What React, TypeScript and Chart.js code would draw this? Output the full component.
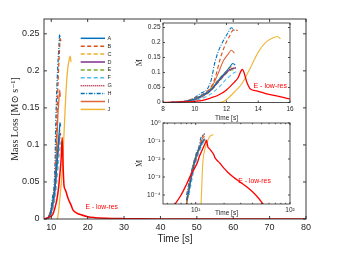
import React, { useEffect, useRef } from 'react';
import { Chart, registerables } from 'chart.js';
Chart.register(...registerables);

// ---------- data ----------
const seriesLabels = ['A', 'B', 'C', 'D', 'E', 'F', 'G', 'H', 'I', 'J'];

const tA = [8, 8.5, 9, 9.5, 10, 10.5, 11, 11.5, 12, 12.2, 12.4, 12.55];
const vA = [0.00005, 0.0002, 0.001, 0.004, 0.012, 0.025, 0.042, 0.075, 0.105, 0.118, 0.13, 0.125];
const tB = [8, 8.5, 9, 9.5, 10, 10.5, 11, 11.3, 11.6, 11.9, 12.2, 12.45, 12.7];
const vB = [0.00005, 0.0003, 0.0015, 0.006, 0.015, 0.028, 0.05, 0.085, 0.145, 0.19, 0.222, 0.243, 0.24];
const tC = [8, 8.5, 9, 9.5, 10, 10.5, 11, 11.5, 12, 12.3, 12.5];
const vC = [0.00003, 0.0002, 0.001, 0.004, 0.011, 0.024, 0.045, 0.078, 0.105, 0.118, 0.12];
const tD = [8, 8.5, 9, 9.5, 10, 10.5, 11, 11.5, 12, 12.3, 12.6];
const vD = [0.00003, 0.0002, 0.001, 0.004, 0.01, 0.022, 0.04, 0.07, 0.1, 0.112, 0.115];
const tE = [8, 8.5, 9, 9.5, 10, 10.5, 11, 11.5, 12, 12.3, 12.5];
const vE = [0.00003, 0.0002, 0.0009, 0.0035, 0.009, 0.02, 0.038, 0.068, 0.097, 0.108, 0.11];
const tF = [8.5, 9, 9.5, 10, 10.5, 11, 11.5, 12, 12.5, 12.8];
const vF = [0.0001, 0.0005, 0.002, 0.006, 0.014, 0.028, 0.05, 0.078, 0.1, 0.105];
const tG = [8, 8.5, 9, 9.5, 10, 10.5, 11, 11.5, 12, 12.3, 12.6];
const vG = [0.00003, 0.0002, 0.001, 0.004, 0.01, 0.023, 0.041, 0.072, 0.102, 0.113, 0.116];
const tH = [8, 8.5, 9, 9.5, 9.8, 10.3, 10.85, 11.05, 11.25, 11.5, 11.8, 12.1, 12.3, 12.5];
const vH = [0.0001, 0.0005, 0.002, 0.006, 0.01, 0.028, 0.05, 0.078, 0.13, 0.172, 0.206, 0.233, 0.249, 0.24];
const tI = [8, 8.5, 9, 9.5, 10, 10.6, 11.05, 11.5, 11.8, 12.1, 12.3, 12.5];
const vI = [0.00005, 0.0003, 0.0015, 0.005, 0.012, 0.028, 0.05, 0.1, 0.139, 0.161, 0.174, 0.165];
const tJ = [11.4, 11.6, 11.8, 12, 12.5, 13, 13.5, 14, 14.5, 15, 15.2, 15.4];
const vJ = [0.00003, 0.0003, 0.003, 0.01, 0.035, 0.065, 0.115, 0.168, 0.202, 0.217, 0.22, 0.212];

const lowResLabel = 'E - low-res';
const tLow = [5, 6, 7, 8, 9, 10, 10.5, 11, 11.5, 12, 12.5, 12.7, 13, 13.3, 13.5, 13.9, 14.6, 15.5, 16, 17, 18, 20, 22, 25, 30, 35, 40, 45, 50, 55, 60, 70, 80];
const vLow = [0.00001, 0.00003, 0.0001, 0.0004, 0.0015, 0.004, 0.007, 0.015, 0.025, 0.042, 0.068, 0.08, 0.11, 0.065, 0.045, 0.039, 0.028, 0.018, 0.012, 0.008, 0.006, 0.003, 0.0018, 0.001, 0.0005, 0.00028, 0.00015, 0.00008, 0.00004, 0.00002, 0.00001, 0.000003, 0.000001];

const seriesT = [tA, tB, tC, tD, tE, tF, tG, tH, tI, tJ];
const seriesV = [vA, vB, vC, vD, vE, vF, vG, vH, vI, vJ];

const mainXTicks = [10, 20, 30, 40, 50, 60, 70, 80];
const mainYTicks = [0, 0.05, 0.1, 0.15, 0.2, 0.25];
const in1XTicks = [8, 10, 12, 14, 16];
const in1YTicks = [0, 0.05, 0.1, 0.15, 0.2, 0.25];
const in2XMajor = [10, 100];
const in2XMinor = [5, 6, 7, 8, 9, 20, 30, 40, 50, 60, 70, 80, 90];
const in2YTicks = [0.0001, 0.001, 0.01, 0.1, 1];

// ---------- styles ----------
const styles = [
  { color: '#0072BD', dash: [] },
  { color: '#D95319', dash: [4, 2.5] },
  { color: '#EDB120', dash: [4, 2.5] },
  { color: '#7E2F8E', dash: [] },
  { color: '#77AC30', dash: [4, 2.5] },
  { color: '#4DBEEE', dash: [4, 2.5] },
  { color: '#A2142F', dash: [1, 1] },
  { color: '#0072BD', dash: [4, 1.5, 1, 1.5] },
  { color: '#E0663A', dash: [] },
  { color: '#F0B535', dash: [] },
];
const lowColor = '#FF0000';
const axisColor = '#262626';
const sans = '"Liberation Sans", "DejaVu Sans", Arial, sans-serif';
const serif = '"Liberation Serif", "DejaVu Serif", serif';

function pts(t: number[], v: number[]) {
  return t.map((x, i) => ({ x, y: v[i] }));
}

function buildDatasets(width: number) {
  const ds: any[] = [
    {
      label: lowResLabel,
      data: pts(tLow, vLow),
      borderColor: lowColor,
      borderWidth: width + 0.2,
      pointRadius: 0,
      cubicInterpolationMode: 'monotone',
      fill: false,
    },
  ];
  seriesLabels.forEach((lab, i) => {
    ds.push({
      label: lab,
      data: pts(seriesT[i], seriesV[i]),
      borderColor: styles[i].color,
      borderDash: styles[i].dash,
      borderWidth: width,
      pointRadius: 0,
      cubicInterpolationMode: 'monotone',
      fill: false,
    });
  });
  return ds;
}

function framePlugin(len: number, lw: number, fill: boolean, minorX?: number[]) {
  return {
    id: 'frameTicks',
    beforeDraw(chart: any) {
      if (!fill) return;
      const a = chart.chartArea;
      const ctx = chart.ctx;
      ctx.save();
      ctx.fillStyle = '#ffffff';
      ctx.fillRect(a.left, a.top, a.right - a.left, a.bottom - a.top);
      ctx.restore();
    },
    afterDraw(chart: any) {
      const { ctx, chartArea: a } = chart;
      const xs = chart.scales.x;
      const ys = chart.scales.y;
      ctx.save();
      ctx.strokeStyle = axisColor;
      ctx.lineWidth = lw;
      ctx.setLineDash([]);
      ctx.beginPath();
      xs.ticks.forEach((t: any) => {
        const p = xs.getPixelForValue(t.value);
        const L = minorX && minorX.includes(t.value) ? len * 0.6 : len;
        ctx.moveTo(p, a.bottom);
        ctx.lineTo(p, a.bottom - L);
        ctx.moveTo(p, a.top);
        ctx.lineTo(p, a.top + L);
      });
      ys.ticks.forEach((t: any) => {
        const p = ys.getPixelForValue(t.value);
        ctx.moveTo(a.left, p);
        ctx.lineTo(a.left + len, p);
        ctx.moveTo(a.right, p);
        ctx.lineTo(a.right - len, p);
      });
      ctx.stroke();
      ctx.strokeRect(a.left, a.top, a.right - a.left, a.bottom - a.top);
      ctx.restore();
    },
  };
}

function textPlugin(x: number, y: number, size: number) {
  return {
    id: 'lowResText',
    afterDatasetsDraw(chart: any) {
      const ctx = chart.ctx;
      const px = chart.scales.x.getPixelForValue(x);
      const py = chart.scales.y.getPixelForValue(y);
      ctx.save();
      ctx.fillStyle = lowColor;
      ctx.font = `${size}px ${sans}`;
      ctx.textAlign = 'left';
      ctx.textBaseline = 'middle';
      ctx.fillText(lowResLabel, px, py);
      ctx.restore();
    },
  };
}

const legendPlugin = {
  id: 'customLegend',
  afterDatasetsDraw(chart: any) {
    const ctx = chart.ctx;
    const x0 = 80.7;
    const x1 = 105;
    const y0 = 38.3;
    const dy = 7.9;
    ctx.save();
    seriesLabels.forEach((lab, i) => {
      const y = y0 + i * dy;
      ctx.strokeStyle = styles[i].color;
      ctx.lineWidth = 1.5;
      ctx.setLineDash(styles[i].dash);
      ctx.beginPath();
      ctx.moveTo(x0, y);
      ctx.lineTo(x1, y);
      ctx.stroke();
      ctx.setLineDash([]);
      ctx.fillStyle = axisColor;
      ctx.font = `5.5px ${sans}`;
      ctx.textAlign = 'left';
      ctx.textBaseline = 'middle';
      ctx.fillText(lab, x1 + 2.5, y);
    });
    ctx.restore();
  },
};

const supMap: Record<string, string> = { '0': '⁰', '1': '¹', '2': '²', '3': '³', '4': '⁴', '5': '⁵', '-': '⁻' };
function sup(n: number) {
  return String(n).split('').map((c) => supMap[c] || c).join('');
}

const setTicks = (arr: number[]) => (s: any) => {
  s.ticks = arr.map((v) => ({ value: v }));
};

const noGrid = { display: false, drawTicks: false, tickLength: 0 };

export default function App() {
  const mainRef = useRef<HTMLCanvasElement>(null);
  const in1Ref = useRef<HTMLCanvasElement>(null);
  const in2Ref = useRef<HTMLCanvasElement>(null);

  useEffect(() => {
    const charts: Chart[] = [];

    charts.push(
      new Chart(mainRef.current as HTMLCanvasElement, {
        type: 'line',
        data: { datasets: buildDatasets(1.3) },
        options: {
          animation: false,
          responsive: false,
          devicePixelRatio: 1,
          layout: { padding: { left: 0, top: 19, right: 34, bottom: 0 } },
          plugins: { legend: { display: false }, tooltip: { enabled: false } },
          scales: {
            x: {
              type: 'linear',
              min: 8,
              max: 80,
              grid: noGrid,
              border: { display: false },
              afterBuildTicks: setTicks(mainXTicks),
              afterFit: (s: any) => { s.height = 42; },
              ticks: { autoSkip: false, maxRotation: 0, padding: 3.3, color: axisColor, font: { family: sans, size: 9 }, callback: (v: any) => String(v) },
              title: { display: true, text: 'Time [s]', color: axisColor, font: { family: sans, size: 10 }, padding: { top: 0, bottom: 16 } },
            },
            y: {
              type: 'linear',
              min: 0,
              max: 0.27,
              grid: noGrid,
              border: { display: false },
              afterBuildTicks: setTicks(mainYTicks),
              afterFit: (s: any) => { s.width = 44; },
              ticks: { autoSkip: false, padding: 4.5, color: axisColor, font: { family: sans, size: 9 }, callback: (v: any) => String(+Number(v).toFixed(2)) },
              title: { display: true, text: 'Mass Loss [M⊙ s⁻¹]', color: axisColor, font: { family: serif, size: 10 }, padding: { top: 9, bottom: 0 } },
            },
          },
        } as any,
        plugins: [framePlugin(3, 0.9, false), legendPlugin, textPlugin(19.4, 0.016, 6.8)],
      })
    );

    charts.push(
      new Chart(in1Ref.current as HTMLCanvasElement, {
        type: 'line',
        data: { datasets: buildDatasets(1.1) },
        options: {
          animation: false,
          responsive: false,
          devicePixelRatio: 1,
          layout: { padding: { left: 0, top: 9, right: 10, bottom: 0 } },
          plugins: { legend: { display: false }, tooltip: { enabled: false } },
          scales: {
            x: {
              type: 'linear',
              min: 8,
              max: 16,
              grid: noGrid,
              border: { display: false },
              afterBuildTicks: setTicks(in1XTicks),
              afterFit: (s: any) => { s.height = 23.5; },
              ticks: { autoSkip: false, maxRotation: 0, padding: 2.6, color: axisColor, font: { family: sans, size: 6.5 }, callback: (v: any) => String(v) },
              title: { display: true, text: 'Time [s]', color: axisColor, font: { family: sans, size: 6.5 }, padding: { top: 0, bottom: 4 } },
            },
            y: {
              type: 'linear',
              min: 0,
              max: 0.265,
              grid: noGrid,
              border: { display: false },
              afterBuildTicks: setTicks(in1YTicks),
              afterFit: (s: any) => { s.width = 35; },
              ticks: { autoSkip: false, padding: 2.5, color: axisColor, font: { family: sans, size: 6.5 }, callback: (v: any) => String(+Number(v).toFixed(2)) },
              title: { display: true, text: 'Ṁ', color: axisColor, font: { family: serif, size: 8 }, padding: { top: 7, bottom: 0 } },
            },
          },
        } as any,
        plugins: [framePlugin(2, 0.8, true), textPlugin(13.7, 0.056, 7)],
      })
    );

    charts.push(
      new Chart(in2Ref.current as HTMLCanvasElement, {
        type: 'line',
        data: { datasets: buildDatasets(1.1) },
        options: {
          animation: false,
          responsive: false,
          devicePixelRatio: 1,
          layout: { padding: { left: 0, top: 9, right: 10, bottom: 0 } },
          plugins: { legend: { display: false }, tooltip: { enabled: false } },
          scales: {
            x: {
              type: 'logarithmic',
              min: 4.5,
              max: 100,
              grid: noGrid,
              border: { display: false },
              afterBuildTicks: setTicks([...in2XMinor, ...in2XMajor].sort((a, b) => a - b)),
              afterFit: (s: any) => { s.height = 16; },
              ticks: {
                autoSkip: false,
                maxRotation: 0,
                padding: 2.6,
                color: axisColor,
                font: { family: sans, size: 6.5 },
                callback: (v: any) => (in2XMajor.includes(Number(v)) ? '10' + sup(Math.round(Math.log10(Number(v)))) : ''),
              },
              title: { display: true, text: 'Time [s]', color: axisColor, font: { family: sans, size: 6.5 }, padding: { top: 0, bottom: 2.6 } },
            },
            y: {
              type: 'logarithmic',
              min: Math.pow(10, -4.5),
              max: 1,
              grid: noGrid,
              border: { display: false },
              afterBuildTicks: setTicks(in2YTicks),
              afterFit: (s: any) => { s.width = 35; },
              ticks: {
                autoSkip: false,
                padding: 2.5,
                color: axisColor,
                font: { family: sans, size: 6.5 },
                callback: (v: any) => '10' + sup(Math.round(Math.log10(Number(v)))),
              },
              title: { display: true, text: 'Ṁ', color: axisColor, font: { family: serif, size: 8 }, padding: { top: 7, bottom: 0 } },
            },
          },
        } as any,
        plugins: [framePlugin(2, 0.8, true, in2XMinor), textPlugin(28.3, 0.00058, 6.8)],
      })
    );

    return () => charts.forEach((c) => c.destroy());
  }, []);

  return (
    <div style={{ position: 'fixed', left: 0, top: 0, width: 340, height: 261, background: '#ffffff', overflow: 'hidden' }}>
      <canvas ref={mainRef} width={340} height={261} style={{ position: 'absolute', left: 0, top: 0, width: 340, height: 261 }} />
      <canvas ref={in1Ref} width={172} height={112} style={{ position: 'absolute', left: 128, top: 14, width: 172, height: 112 }} />
      <canvas ref={in2Ref} width={172} height={106} style={{ position: 'absolute', left: 128, top: 114, width: 172, height: 106 }} />
    </div>
  );
}
